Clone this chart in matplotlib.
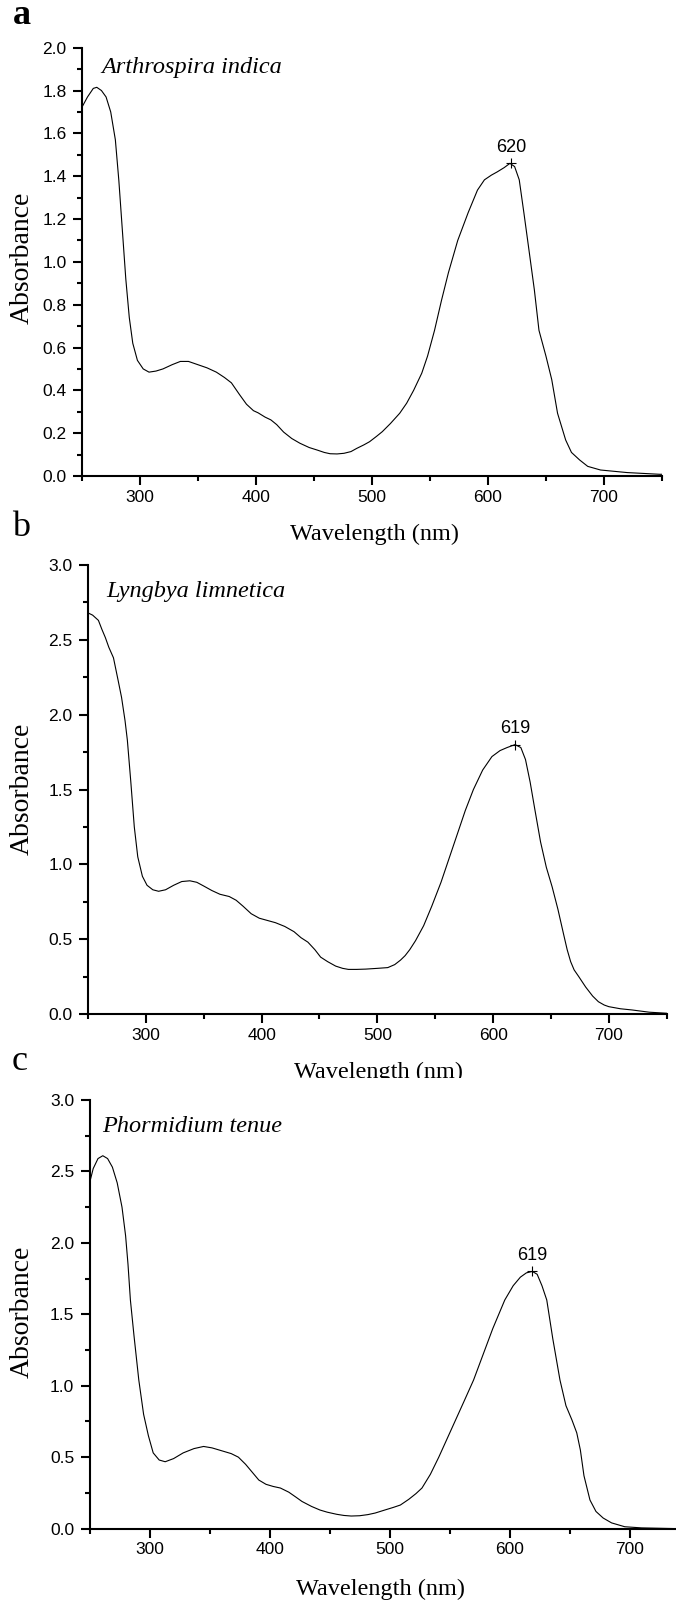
import matplotlib
matplotlib.use("Agg")
import matplotlib.pyplot as plt
from matplotlib.patches import Rectangle
from matplotlib.ticker import MultipleLocator

# ---- data (wavelength nm, absorbance) ----
wl_a = [250, 255, 260, 263, 267, 271, 275, 279, 282, 285, 288, 291, 294, 298,
        303, 308, 314, 320, 328, 335, 342, 350, 358, 366, 373, 379, 386, 392,
        398, 402, 408, 413, 418, 424, 431, 438, 446, 453, 459, 464, 470, 476,
        482, 487, 493, 498, 504, 509, 516, 524, 530, 536, 543, 548, 554, 560,
        566, 574, 583, 591, 597, 603, 608, 614, 619, 623, 627, 631, 635, 640,
        644, 650, 655, 660, 667, 672, 679, 686, 697, 720, 748, 750]
abs_a = [1.72, 1.77, 1.81, 1.815, 1.80, 1.77, 1.70, 1.57, 1.38, 1.15, 0.92, 0.74, 0.62, 0.54,
         0.50, 0.485, 0.49, 0.50, 0.52, 0.535, 0.535, 0.52, 0.505, 0.485, 0.46, 0.435, 0.38, 0.335,
         0.305, 0.295, 0.275, 0.262, 0.24, 0.205, 0.175, 0.153, 0.133, 0.121, 0.11, 0.104, 0.103, 0.106,
         0.114, 0.129, 0.145, 0.16, 0.185, 0.207, 0.245, 0.293, 0.34, 0.40, 0.48, 0.56, 0.68, 0.82,
         0.95, 1.10, 1.23, 1.335, 1.383, 1.405, 1.42, 1.44, 1.46, 1.445, 1.383, 1.229, 1.07, 0.87,
         0.68, 0.56, 0.45, 0.293, 0.168, 0.11, 0.075, 0.045, 0.028, 0.016, 0.008, 0.008]

wl_b = [250, 254, 259, 262, 265, 268, 272, 276, 279, 282, 284, 287, 290, 293, 297,
        301, 306, 311, 317, 324, 331, 338, 344, 350, 357, 364, 372, 378, 384, 391,
        398, 405, 412, 420, 428, 434, 440, 446, 451, 457, 464, 470, 475, 482, 490,
        500, 509, 515, 520, 524, 528, 533, 540, 547, 555, 562, 569, 576, 583, 591,
        599, 606, 612, 619, 624, 628, 632, 636, 641, 646, 651, 656, 661, 664, 667,
        670, 674, 680, 686, 691, 696, 700, 710, 720, 735, 750]
abs_b = [2.68, 2.665, 2.63, 2.57, 2.515, 2.45, 2.38, 2.23, 2.115, 1.96, 1.83, 1.55, 1.25, 1.05, 0.92,
         0.86, 0.83, 0.82, 0.83, 0.86, 0.885, 0.89, 0.88, 0.855, 0.825, 0.80, 0.785, 0.76, 0.72, 0.67,
         0.64, 0.625, 0.61, 0.585, 0.55, 0.51, 0.48, 0.43, 0.38, 0.35, 0.32, 0.305, 0.298, 0.298, 0.30,
         0.305, 0.31, 0.33, 0.36, 0.39, 0.43, 0.49, 0.59, 0.72, 0.88, 1.04, 1.20, 1.36, 1.50, 1.63,
         1.72, 1.76, 1.78, 1.80, 1.78, 1.70, 1.55, 1.37, 1.15, 0.98, 0.85, 0.70, 0.53, 0.43, 0.35,
         0.295, 0.25, 0.18, 0.12, 0.082, 0.06, 0.049, 0.035, 0.027, 0.012, 0.005]

wl_c = [250, 253, 257, 261, 265, 269, 273, 277, 280, 282, 284, 287, 291, 295, 299,
        303, 308, 313, 320, 328, 337, 345, 352, 360, 368, 374, 380, 386, 391, 397,
        403, 409, 416, 422, 427, 435, 442, 448, 456, 462, 468, 475, 482, 488, 496,
        503, 509, 516, 522, 527, 534, 541, 548, 555, 562, 570, 578, 586, 596, 603,
        609, 614, 619, 623, 627, 631, 636, 642, 647, 652, 656, 659, 662, 667, 672,
        678, 685, 696, 710, 738]
abs_c = [2.42, 2.52, 2.59, 2.61, 2.59, 2.53, 2.42, 2.25, 2.05, 1.85, 1.60, 1.35, 1.04, 0.80, 0.65,
         0.53, 0.48, 0.468, 0.49, 0.53, 0.56, 0.575, 0.565, 0.545, 0.525, 0.50, 0.45, 0.39, 0.34, 0.31,
         0.295, 0.284, 0.255, 0.22, 0.19, 0.155, 0.13, 0.115, 0.10, 0.092, 0.088, 0.09, 0.098, 0.109, 0.13,
         0.148, 0.165, 0.205, 0.245, 0.284, 0.38, 0.50, 0.63, 0.76, 0.89, 1.04, 1.22, 1.40, 1.60, 1.70,
         1.76, 1.79, 1.80, 1.78, 1.70, 1.60, 1.33, 1.04, 0.86, 0.76, 0.67, 0.55, 0.37, 0.20, 0.12,
         0.074, 0.04, 0.013, 0.005, 0.0]

species = ["Arthrospira indica", "Lyngbya limnetica", "Phormidium tenue"]
panel_letters = ["a", "b", "c"]
peak_wl = [620, 619, 619]
peak_abs = [1.46, 1.80, 1.80]

W, H = 676, 1602
sans = "Liberation Sans"
serif = "Liberation Serif"

fig = plt.figure(figsize=(W / 100, H / 100), dpi=100)


def rect(left, right, top, bottom):
    return [left / W, 1 - bottom / H, (right - left) / W, (bottom - top) / H]


# axes boxes in pixels: left, right, top, bottom
boxes = [(81.7, 662, 47.7, 476), (88, 666.7, 565, 1014), (89.6, 676, 1100, 1528.6)]
xlims = [(250, 750), (250, 750), (250, 738.7)]
ylims = [(0, 2.0), (0, 3.0), (0, 3.0)]
ymaj = [0.2, 0.5, 0.5]
series = [(wl_a, abs_a), (wl_b, abs_b), (wl_c, abs_c)]

sp_pos = [(101.7, 57), (106, 581), (102, 1116)]
ylab_pos = [(22, 258), (22, 789), (22, 1312)]
xlab_pos = [(375, 534), (378, 1072), (380, 1589)]
letter_pos = [(22, 16), (21, 528), (20, 1062)]

for i in range(3):
    ax = fig.add_axes(rect(*boxes[i]))
    x, y = series[i]
    ax.plot(x, y, color="black", lw=0.8)
    ax.plot([peak_wl[i]], [peak_abs[i]], marker="+", color="black", ms=7.5, mew=0.8)
    ax.annotate(str(peak_wl[i]), (peak_wl[i], peak_abs[i]), xytext=(0, 8.5),
                textcoords="offset points", ha="center", va="baseline",
                fontsize=13, family=sans)
    ax.set_xlim(*xlims[i])
    ax.set_ylim(*ylims[i])
    ax.xaxis.set_major_locator(MultipleLocator(100))
    ax.xaxis.set_minor_locator(MultipleLocator(50))
    ax.yaxis.set_major_locator(MultipleLocator(ymaj[i]))
    ax.yaxis.set_minor_locator(MultipleLocator(ymaj[i] / 2))
    ax.set_xticks([300, 400, 500, 600, 700])
    ax.yaxis.set_major_formatter(matplotlib.ticker.FormatStrFormatter("%.1f"))
    for s in ["top", "right"]:
        ax.spines[s].set_visible(False)
    for s in ["left", "bottom"]:
        ax.spines[s].set_linewidth(1.5)
    ax.tick_params(which="major", direction="out", length=6.5, width=1.5,
                   labelsize=12.5, pad=3.5)
    ax.tick_params(which="minor", direction="out", length=3.6, width=1.5)
    ax.tick_params(axis="y", which="major", pad=4.5)
    for lab in ax.get_xticklabels() + ax.get_yticklabels():
        lab.set_family(sans)
    ax.patch.set_alpha(0)

    fig.text(sp_pos[i][0] / W, 1 - sp_pos[i][1] / H, species[i], style="italic",
             family=serif, fontsize=17.5, ha="left", va="top")
    fig.text(ylab_pos[i][0] / W, 1 - ylab_pos[i][1] / H, "Absorbance", rotation=90,
             family=serif, fontsize=20, ha="center", va="center")
    fig.text(xlab_pos[i][0] / W, 1 - xlab_pos[i][1] / H, "Wavelength (nm)",
             family=serif, fontsize=17.5, ha="center", va="center")

# the lower part of panel b's x label is hidden in the reference
fig.add_artist(Rectangle((0, 1 - 1092 / H), 1, 14 / H, transform=fig.transFigure,
                         facecolor="white", edgecolor="none", zorder=5))

for i in range(3):
    fig.text(letter_pos[i][0] / W, 1 - letter_pos[i][1] / H, panel_letters[i],
             family=serif, fontsize=26, ha="center", va="center",
             weight="bold" if i == 0 else "normal", zorder=6)

fig.savefig("out.png", dpi=100)
